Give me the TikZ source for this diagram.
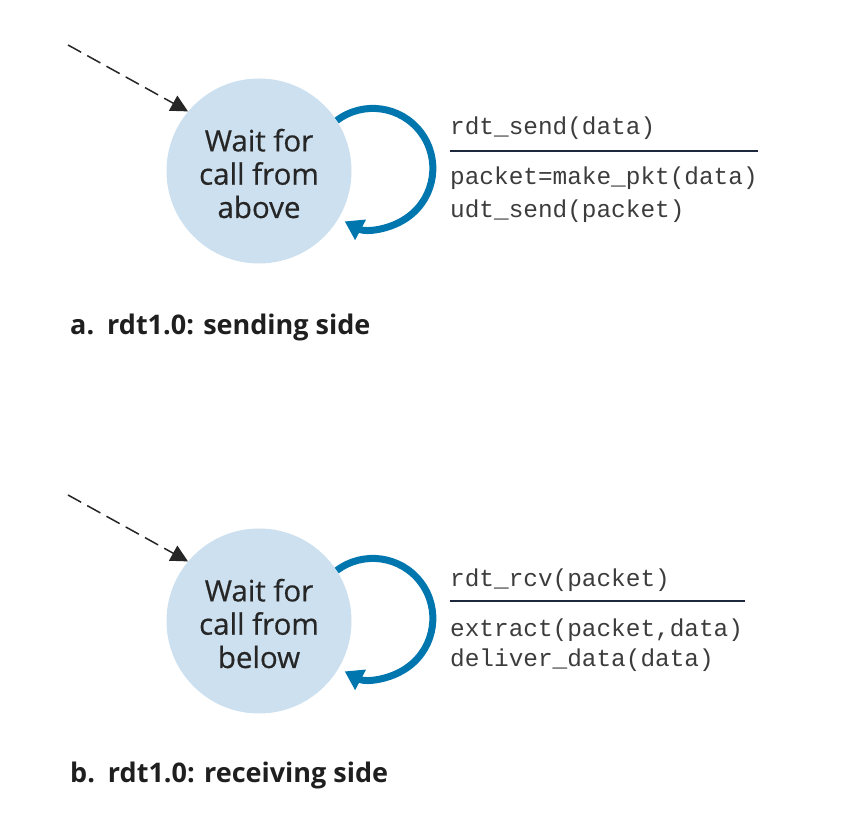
\documentclass[tikz,border=0pt]{standalone}
\usepackage{fontspec}
\setmainfont{Open Sans}
\setmonofont{Liberation Mono}
\newfontfamily\statefont[FakeBold=0.5]{Open Sans}
\usetikzlibrary{arrows.meta}
\definecolor{stfill}{RGB}{204,224,239}
\definecolor{loopblue}{RGB}{0,118,174}
\definecolor{rulecol}{RGB}{30,40,60}
\definecolor{codegray}{RGB}{60,60,60}
\begin{document}
\begin{tikzpicture}[x=1pt,y=1pt,
  state/.style={circle, fill=stfill, minimum size=185pt, inner sep=0pt, align=center,
    font=\statefont\fontsize{29.5}{33.3}\selectfont, text=black!85,
    text height=94pt, text depth=0pt},
  init/.style={dash pattern=on 15pt off 7pt, line width=1.5pt, black!85,
    -{Triangle[length=17pt,width=17pt]}},
  selfloop/.style={loopblue, line width=7pt, -{Triangle[length=18pt,width=22pt]}},
  code/.style={anchor=base west, inner sep=0pt, font=\fontsize{24.4}{24.4}\ttfamily, text=codegray},
  caption/.style={anchor=base west, inner sep=0pt, font=\fontsize{27}{27}\selectfont\bfseries, text=black!88},
  sep/.style={rulecol, line width=2pt}]
\useasboundingbox (0,0) rectangle (862,818);

% ---------- a. sending side ----------
\node[state] (send) at (259,647) {Wait for\\call from\\above};
\coordinate (sendin) at (68,773);
\draw[init] (sendin) -- (send.140);
\draw[selfloop] (send.33) arc[start angle=127, end angle=-118, radius=60];
\node[code] (s1) at (450,683) {rdt\_send(data)};
\coordinate (sr1) at (450,667.3);
\coordinate (sr2) at (758,667.3);
\draw[sep] (sr1) -- (sr2);
\node[code] (s2) at (450,633) {packet=make\_pkt(data)};
\node[code] (s3) at (450,600) {udt\_send(packet)};
\node[caption] (capa) at (70,483) {a.\hspace{13pt}rdt1.0: sending side};

% ---------- b. receiving side ----------
\node[state] (recv) at (259,197) {Wait for\\call from\\below};
\coordinate (recvin) at (68,323);
\draw[init] (recvin) -- (recv.140);
\draw[selfloop] (recv.33) arc[start angle=127, end angle=-118, radius=60];
\node[code] (r1) at (450,231) {rdt\_rcv(packet)};
\coordinate (rr1) at (450,217.3);
\coordinate (rr2) at (745,217.3);
\draw[sep] (rr1) -- (rr2);
\node[code] (r2) at (450,181) {extract(packet,data)};
\node[code] (r3) at (450,151) {deliver\_data(data)};
\node[caption] (capb) at (70,35) {b.\hspace{13pt}rdt1.0: receiving side};
\end{tikzpicture}
\end{document}
